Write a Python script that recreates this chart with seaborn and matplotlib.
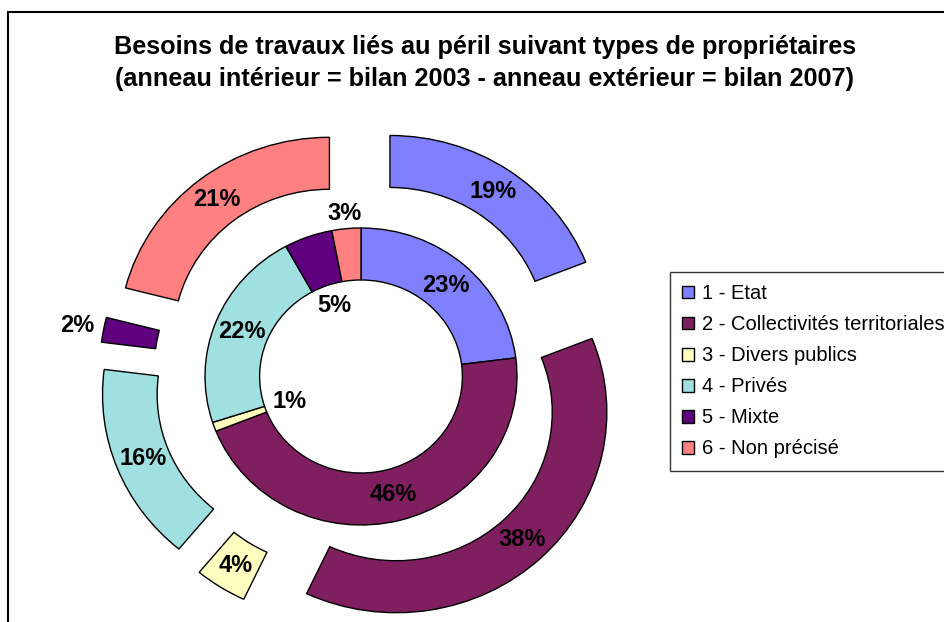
import numpy as np
import matplotlib
matplotlib.use("Agg")
import matplotlib.pyplot as plt
import matplotlib.patches as mpatches
import seaborn as sns

# data
categories = ["1 - Etat", "2 - Collectivités territoriales", "3 - Divers publics",
              "4 - Privés", "5 - Mixte", "6 - Non précisé"]
bilan_2003 = [23, 46, 1, 22, 5, 3]   # inner ring
bilan_2007 = [19, 38, 4, 16, 2, 21]  # outer ring
colors = ["#8080FF", "#7F1F5F", "#FFFFC0", "#A0E0E0", "#5F007F", "#FF8080"]

title = ("Besoins de travaux liés au péril suivant types de propriétaires\n"
         "(anneau intérieur = bilan 2003 - anneau extérieur = bilan 2007)")

sns.set_theme(style="white")
plt.rcParams['font.family'] = ['Liberation Sans', 'DejaVu Sans']
plt.rcParams['text.color'] = 'black'

fig = plt.figure(figsize=(9.45, 6.22), dpi=100)
ax = fig.add_axes([0, 0, 1, 1])

ring_w = 0.35
expl = 0.33
wp = dict(width=ring_w, edgecolor="black", linewidth=1.0)

inner, _ = ax.pie(bilan_2003, radius=1.0, colors=colors, startangle=90,
                  counterclock=False, wedgeprops=wp)
outer, _ = ax.pie(bilan_2007, radius=1.0 + ring_w, colors=colors, startangle=90,
                  counterclock=False, explode=[expl] * len(bilan_2007), wedgeprops=wp)


def mid_angles(vals):
    cum = np.cumsum([0] + list(vals))
    return np.radians((cum[:-1] + cum[1:]) / 2 / sum(vals) * 360)


# percent labels
inner_r = [0.82, 0.82, 0.49, 0.82, 0.51, 1.10]
for v, a, r in zip(bilan_2003, mid_angles(bilan_2003), inner_r):
    ax.text(r * np.sin(a), r * np.cos(a), f"{v}%", ha="center", va="center",
            fontsize=17, fontweight="bold", color="black")

outer_r = [1.175, 1.175, 1.175, 1.175, 1.52, 1.175]
for v, a, r in zip(bilan_2007, mid_angles(bilan_2007), outer_r):
    rr = r + expl
    ax.text(rr * np.sin(a), rr * np.cos(a), f"{v}%", ha="center", va="center",
            fontsize=17, fontweight="bold", color="black")

# map axes so the chart sits like the original (slightly wider than tall)
cx, cy, sx, sy = 361, 376.5, 156, 148.5
ax.set_aspect("auto")
ax.set_xlim(-cx / sx, (945 - cx) / sx)
ax.set_ylim((cy - 622) / sy, cy / sy)
ax.axis("off")

fig.text(485 / 945, 1 - 63 / 622, title, ha="center", va="center", fontsize=18.2,
         fontweight="bold", linespacing=1.45, color="black")

leg = fig.legend(handles=inner, labels=categories, loc="upper left",
                 bbox_to_anchor=(670 / 945, 1 - 272 / 622), fontsize=14.5,
                 frameon=True, fancybox=False, edgecolor="black",
                 handlelength=0.6, handleheight=0.6, handletextpad=0.4,
                 labelspacing=0.6, borderpad=0.6, borderaxespad=0)
leg.get_frame().set_linewidth(1.0)
for t in leg.get_texts():
    t.set_color("black")

# outer chart frame (runs off the bottom/right)
fig.patches.append(mpatches.Rectangle((8 / 945, -0.2), 1.2, 1.2 - 12 / 622,
                                      transform=fig.transFigure, fill=False,
                                      edgecolor="black", linewidth=1.5))

fig.savefig("out.png", dpi=100)
